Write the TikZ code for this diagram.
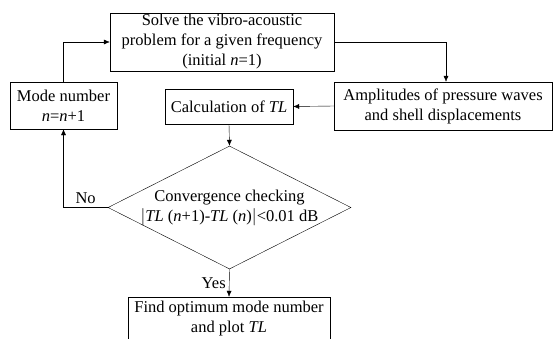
\documentclass[tikz,border=0pt]{standalone}
\usepackage{fontspec}
\setmainfont{Liberation Serif}
\usetikzlibrary{shapes.geometric,arrows.meta}

\begin{document}
\begin{tikzpicture}[x=1pt,y=-1pt,->,>={Latex[length=6pt,width=5pt]},
  every node/.style = {font=\fontsize{16.5}{20}\selectfont, align=center},
  box/.style = {shape=rectangle, draw, fill=white, inner sep=0pt},
  decision/.style = {shape=diamond, draw, fill=white, inner sep=0pt,
    minimum width=243pt, minimum height=123pt}]
  \useasboundingbox (0,0) rectangle (553,338);
  \node[box, minimum width=224pt, minimum height=58pt] (solve) at (222,42)
    {Solve the vibro-acoustic\\problem for a given frequency\\(initial \textit{n}=1)};
  \node[box, minimum width=107pt, minimum height=47pt] (mode) at (63.5,105.5)
    {Mode number\\\textit{n}=\textit{n}+1};
  \node[box, minimum width=128pt, minimum height=35pt] (calc) at (229,106.5)
    {Calculation of \textit{TL}};
  \node[box, minimum width=218pt, minimum height=48pt] (amp) at (443,106)
    {Amplitudes of pressure waves\\and shell displacements};
  \node[decision] (conv) at (229.5,207.5) {};
  \node (convtext) at (conv.center)
    {Convergence checking\\$|$\textit{TL} (\textit{n}+1)-\textit{TL} (\textit{n})$|$<0.01 dB};
  \node[box, minimum width=202pt, minimum height=44pt] (find) at (229,319)
    {Find optimum mode number\\and plot \textit{TL}};
  % connectors
  \draw (mode.north) |- (solve.west);
  \draw (solve.east) -| (amp.north -| 446,0);
  \draw (amp.west) -- (calc.east);
  \draw (calc.south) -- (conv.north);
  \draw (conv.west) -| node[pos=0.25, above] {No} (mode.south);
  \draw (conv.south) -- node[left] {Yes} (find.north);
\end{tikzpicture}
\end{document}
